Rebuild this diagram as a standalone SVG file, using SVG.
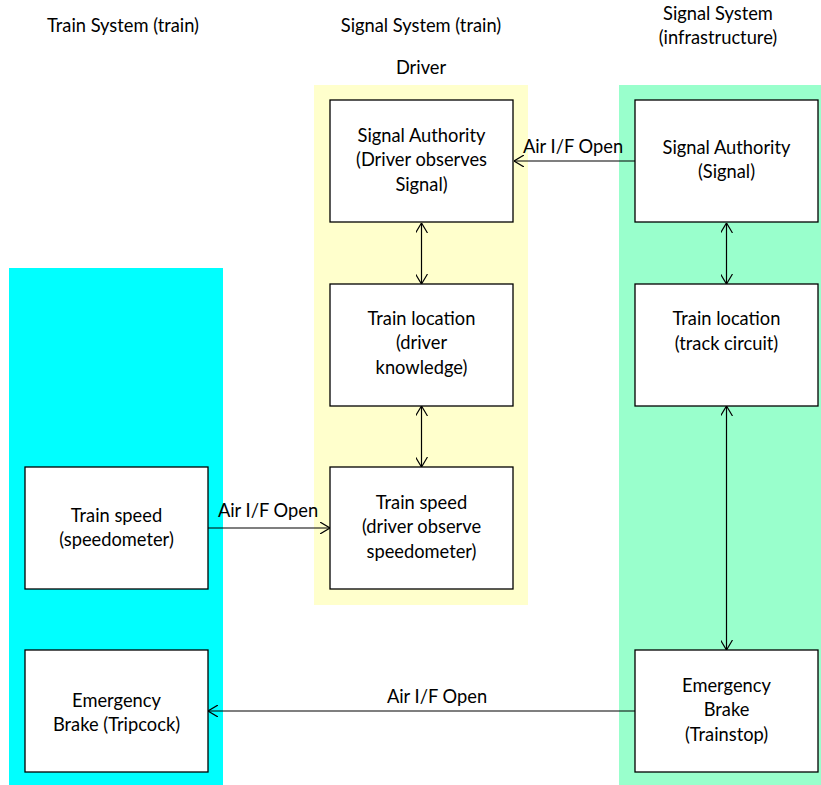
<svg xmlns="http://www.w3.org/2000/svg" width="821" height="785" viewBox="0 0 821 785">
<defs>
<marker id="arr" viewBox="0 0 10 12" refX="10" refY="6" markerWidth="10" markerHeight="12" markerUnits="userSpaceOnUse" orient="auto-start-reverse">
<path d="M0,0 L10,6 L0,12" fill="none" stroke="#000" stroke-width="1.2"/>
</marker>
<style>
text{font-family:Lato,"Liberation Sans",sans-serif;font-size:18.3px;fill:#000;text-anchor:middle}
.box{fill:#fff;stroke:#000;stroke-width:1.3}
.ln{stroke:#000;stroke-width:1.2;fill:none}
</style>
</defs>
<rect width="821" height="785" fill="#fff"/>
<g id="lanes">
<rect x="9" y="268" width="214" height="517" fill="#00ffff"/>
<rect x="314" y="85" width="214" height="520" fill="#ffffcc"/>
<rect x="619" y="85" width="202" height="700" fill="#99ffcc"/>
</g>
<g id="titles">
<text x="123" y="32">Train System (train)</text>
<text x="421" y="32">Signal System (train)</text>
<text x="718" y="20">Signal System</text>
<text x="718" y="44">(infrastructure)</text>
<text x="421" y="74">Driver</text>
</g>
<g id="connectors">
<line class="ln" x1="635" y1="161" x2="514" y2="161" marker-end="url(#arr)"/>
<text x="573" y="153">Air I/F Open</text>
<line class="ln" x1="421.5" y1="223" x2="421.5" y2="284" marker-start="url(#arr)" marker-end="url(#arr)"/>
<line class="ln" x1="421.5" y1="406" x2="421.5" y2="467" marker-start="url(#arr)" marker-end="url(#arr)"/>
<line class="ln" x1="726.5" y1="223" x2="726.5" y2="284" marker-start="url(#arr)" marker-end="url(#arr)"/>
<line class="ln" x1="726.5" y1="406" x2="726.5" y2="650" marker-start="url(#arr)" marker-end="url(#arr)"/>
<line class="ln" x1="208" y1="528" x2="330" y2="528" marker-end="url(#arr)"/>
<text x="268" y="517">Air I/F Open</text>
<line class="ln" x1="635" y1="711" x2="208" y2="711" marker-end="url(#arr)"/>
<text x="437" y="703">Air I/F Open</text>
</g>
<g id="sa-driver">
<rect class="box" x="330" y="100" width="183" height="122"/>
<text x="421.5" y="142">Signal Authority</text>
<text x="421.5" y="166">(Driver observes</text>
<text x="421.5" y="191">Signal)</text>
</g>
<g id="sa-signal">
<rect class="box" x="635" y="100" width="183" height="122"/>
<text x="726.5" y="154">Signal Authority</text>
<text x="726.5" y="178">(Signal)</text>
</g>
<g id="tl-driver">
<rect class="box" x="330" y="284" width="183" height="122"/>
<text x="421.5" y="325">Train location</text>
<text x="421.5" y="349">(driver</text>
<text x="421.5" y="374">knowledge)</text>
</g>
<g id="tl-track">
<rect class="box" x="635" y="284" width="183" height="122"/>
<text x="726.5" y="325">Train location</text>
<text x="726.5" y="350">(track circuit)</text>
</g>
<g id="ts-driver">
<rect class="box" x="330" y="467" width="183" height="122"/>
<text x="421.5" y="509">Train speed</text>
<text x="421.5" y="533">(driver observe</text>
<text x="421.5" y="558">speedometer)</text>
</g>
<g id="ts-speedo">
<rect class="box" x="25" y="467" width="183" height="122"/>
<text x="116.5" y="522">Train speed</text>
<text x="116.5" y="546">(speedometer)</text>
</g>
<g id="eb-tripcock">
<rect class="box" x="25" y="650" width="183" height="122"/>
<text x="116.5" y="707">Emergency</text>
<text x="116.5" y="731">Brake (Tripcock)</text>
</g>
<g id="eb-trainstop">
<rect class="box" x="635" y="650" width="183" height="122"/>
<text x="726.5" y="692">Emergency</text>
<text x="726.5" y="716">Brake</text>
<text x="726.5" y="741">(Trainstop)</text>
</g>
</svg>
